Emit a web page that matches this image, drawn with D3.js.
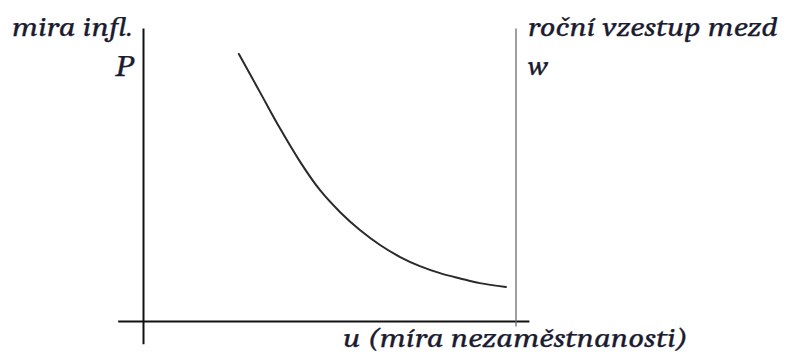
<!DOCTYPE html>
<html><head><meta charset="utf-8">
<script src="https://cdn.jsdelivr.net/npm/d3@7"></script>
<style>
html,body{margin:0;padding:0;background:#fff;}
svg{display:block;}
text{font-family:"Cambria","Caladea","Liberation Serif",serif;font-style:italic;font-weight:normal;fill:#1c1c30;stroke:#1c1c30;stroke-width:0.25px;}
</style></head>
<body>
<svg id="chart" width="787" height="354"></svg>
<script>
// Phillips curve: unemployment u vs. inflation P (schematic)
const curveU = [2.56, 3.13, 3.66, 4.21, 4.74, 5.28, 5.81, 6.35, 6.89, 7.42, 7.96, 8.50, 9.03, 9.73];
const curveP = [9.13, 7.82, 6.60, 5.44, 4.48, 3.73, 3.12, 2.61, 2.20, 1.89, 1.65, 1.47, 1.31, 1.18];
const leftAxisLabels = ["mira infl.", "P"];
const rightAxisLabels = ["roční vzestup mezd", "w"];
const xAxisLabel = "u (míra nezaměstnanosti)";
const xDomain = [0, 10];
const yDomain = [0, 10];
const xAxisExtent = [-0.68, 10.36];
const yAxisExtent = [-0.78, 10];
const rightAxisExtent = [-0.17, 10];

const svg = d3.select("#chart");
const x = d3.scaleLinear().domain(xDomain).range([143.5, 516]);
const y = d3.scaleLinear().domain(yDomain).range([321.5, 28.5]);

// horizontal axis
svg.append("line")
  .attr("x1", x(xAxisExtent[0])).attr("x2", x(xAxisExtent[1]))
  .attr("y1", y(0)).attr("y2", y(0))
  .attr("stroke", "#111").attr("stroke-width", 2);
// left vertical axis
svg.append("line")
  .attr("x1", x(0)).attr("x2", x(0))
  .attr("y1", y(yAxisExtent[0])).attr("y2", y(yAxisExtent[1]))
  .attr("stroke", "#111").attr("stroke-width", 2);
// right vertical axis (wages)
svg.append("line")
  .attr("x1", x(xDomain[1])).attr("x2", x(xDomain[1]))
  .attr("y1", y(rightAxisExtent[0])).attr("y2", y(rightAxisExtent[1]))
  .attr("stroke", "#6a6a6a").attr("stroke-width", 1.3);

// curve
const pts = curveU.map((u, i) => [u, curveP[i]]);
const line = d3.line().x(d => x(d[0])).y(d => y(d[1])).curve(d3.curveCatmullRom.alpha(0.5));
svg.append("path").attr("d", line(pts))
  .attr("fill", "none").attr("stroke", "#2a2a2a").attr("stroke-width", 2)
  .attr("stroke-linecap", "round");

// labels
function label(txt, xx, yy, len, size, anchor) {
  svg.append("text").attr("x", xx).attr("y", yy)
    .attr("font-size", size)
    .attr("text-anchor", anchor || "start")
    .attr("textLength", len).attr("lengthAdjust", "spacingAndGlyphs")
    .text(txt);
}
label(leftAxisLabels[0], 12, 36, 121, 28);
label(leftAxisLabels[1], 115, 76, 18, 30);
label(rightAxisLabels[0], 528, 36, 250, 28);
label(rightAxisLabels[1], 528, 75, 20, 28);
label(xAxisLabel, 343, 347, 345, 28);
</script>
</body></html>
